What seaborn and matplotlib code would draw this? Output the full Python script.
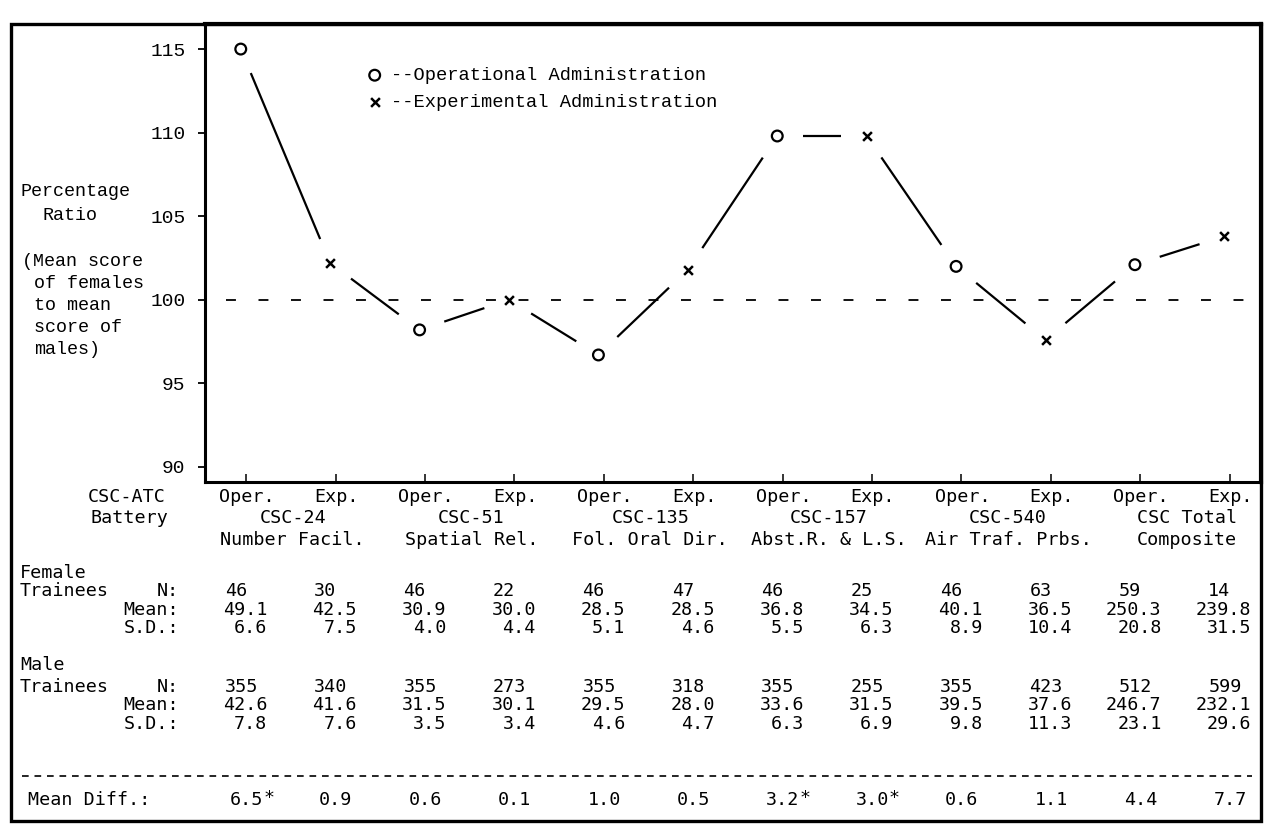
import numpy as np
import matplotlib
matplotlib.use("Agg")
import matplotlib.pyplot as plt
import matplotlib.transforms as mtransforms
from matplotlib.patches import Rectangle
import seaborn as sns

# ---- data -------------------------------------------------------------
tests = ["CSC-24", "CSC-51", "CSC-135", "CSC-157", "CSC-540", "CSC Total"]
subtitles = ["Number Facil.", "Spatial Rel.", "Fol. Oral Dir.",
             "Abst.R. & L.S.", "Air Traf. Prbs.", "Composite"]
admin_labels = ["Oper.", "Exp."]

# percentage ratio (female mean / male mean) per administration
oper_ratio = [115.0, 98.2, 96.7, 109.8, 102.0, 102.1]
exp_ratio = [102.2, 100.0, 101.8, 109.8, 97.6, 103.8]

# columns run Oper., Exp. for each test
female_n = [46, 30, 46, 22, 46, 47, 46, 25, 46, 63, 59, 14]
female_mean = [49.1, 42.5, 30.9, 30.0, 28.5, 28.5, 36.8, 34.5, 40.1, 36.5, 250.3, 239.8]
female_sd = [6.6, 7.5, 4.0, 4.4, 5.1, 4.6, 5.5, 6.3, 8.9, 10.4, 20.8, 31.5]
male_n = [355, 340, 355, 273, 355, 318, 355, 255, 355, 423, 512, 599]
male_mean = [42.6, 41.6, 31.5, 30.1, 29.5, 28.0, 33.6, 31.5, 39.5, 37.6, 246.7, 232.1]
male_sd = [7.8, 7.6, 3.5, 3.4, 4.6, 4.7, 6.3, 6.9, 9.8, 11.3, 23.1, 29.6]
mean_diff = [6.5, 0.9, 0.6, 0.1, 1.0, 0.5, 3.2, 3.0, 0.6, 1.1, 4.4, 7.7]
mean_diff_sig = [True, False, False, False, False, False, True, True, False, False, False, False]

y_ticks = [90, 95, 100, 105, 110, 115]

# ---- figure -------------------------------------------------------------
W, H = 1265, 827
sns.set_theme(style="white")
plt.rcParams["font.family"] = ["Liberation Mono", "DejaVu Sans Mono"]
plt.rcParams["text.color"] = "black"

fig = plt.figure(figsize=(W / 100, H / 100), dpi=100)
fig.patch.set_facecolor("white")


def fx(px):
    return px / W


def fy(py):
    return 1 - py / H


ax = fig.add_axes([fx(205), fy(482), fx(1261) - fx(205), fy(24) - fy(482)])
ax.set_facecolor("white")

x_oper = np.arange(len(tests)) * 2
x_exp = x_oper + 1
x_all = np.arange(2 * len(tests))
ratio_all = np.ravel(np.column_stack([oper_ratio, exp_ratio]))

ax.set_xlim(-0.40, 11.41)
ax.set_ylim(89.1, 116.5)

# reference line at equal means
ax.axhline(100, xmin=0.02, xmax=1.0, color="black", lw=1.3,
           dashes=(5.5, 12.5), zorder=1)

# connectors between successive points, stopping short of each marker
gap_px = 26
to_disp = ax.transData
to_data = ax.transData.inverted()
for i in range(len(x_all) - 1):
    a = to_disp.transform((x_all[i], ratio_all[i]))
    b = to_disp.transform((x_all[i + 1], ratio_all[i + 1]))
    d = b - a
    u = d / np.hypot(*d)
    seg = to_data.transform(np.vstack([a + u * gap_px, b - u * gap_px]))
    ax.plot(seg[:, 0], seg[:, 1], color="black", lw=1.6, solid_capstyle="butt", zorder=2)

sns.scatterplot(x=x_oper, y=oper_ratio, marker="o", s=60, facecolor="none",
                edgecolor="black", linewidth=1.6, ax=ax, zorder=3,
                label="--Operational Administration")
sns.scatterplot(x=x_exp, y=exp_ratio, marker="x", s=40, color="black",
                linewidth=1.8, ax=ax, zorder=3,
                label="--Experimental Administration")

ax.legend(loc="upper left", bbox_to_anchor=(fx(370), fy(67)),
          bbox_transform=fig.transFigure, frameon=False,
          handlelength=0.5, handletextpad=0.6, borderpad=0, borderaxespad=0,
          labelspacing=0.5, prop={"family": "Liberation Mono", "size": 13.5})

# axes styling
ax.set_yticks(y_ticks)
ax.set_yticklabels([str(t) for t in y_ticks], fontsize=14)
ax.set_xticks(x_all + 0.06)
ax.set_xticklabels([])
ax.tick_params(axis="y", direction="out", length=5, width=1.3, pad=9, left=True, colors="black")
ax.tick_params(axis="x", direction="in", length=6, width=1.3, bottom=True)
for side, lw in [("left", 2.2), ("bottom", 2.2), ("top", 3.0), ("right", 3.0)]:
    ax.spines[side].set_visible(True)
    ax.spines[side].set_color("black")
    ax.spines[side].set_linewidth(lw)
ax.set_xlabel("")
ax.set_ylabel("")

# outer frame around plot and table
fig.add_artist(Rectangle((fx(11), fy(821)), fx(1261) - fx(11), fy(24) - fy(821),
                         transform=fig.transFigure, fill=False, ec="black", lw=2.4))

# y-axis caption
fs = 13.2
fig.text(fx(21), fy(192), "Percentage", fontsize=fs, va="center", ha="left")
fig.text(fx(43), fy(215), "Ratio", fontsize=fs, va="center", ha="left")
for txt, px, py in [("(Mean score", 22, 262), ("of females", 34, 284),
                    ("to mean", 34, 306), ("score of", 34, 328), ("males)", 34, 350)]:
    fig.text(fx(px), fy(py), txt, fontsize=fs, va="center", ha="left")

# ---- data table under the axis -----------------------------------------
tfs = 13.2
tfam = ["DejaVu Sans Mono"]
colx = mtransforms.blended_transform_factory(ax.transData, fig.transFigure)


def row(values, py, fmt, align):
    for xi, v in zip(x_all, values):
        s = fmt(v)
        if align == "left":
            fig.text(xi - 0.18, fy(py), s, transform=colx, fontsize=tfs,
                     family=tfam, ha="left", va="center")
        else:
            fig.text(xi + 0.30, fy(py), s, transform=colx, fontsize=tfs,
                     family=tfam, ha="right", va="center")


# header
fig.text(fx(127), fy(497), "CSC-ATC", fontsize=tfs, family=tfam, ha="center", va="center")
fig.text(fx(129), fy(518), "Battery", fontsize=tfs, family=tfam, ha="center", va="center")
for xi in x_all:
    fig.text(xi + 0.07, fy(497), admin_labels[xi % 2], transform=colx, fontsize=tfs,
             family=tfam, ha="center", va="center")
for k, (t, sub) in enumerate(zip(tests, subtitles)):
    xm = x_oper[k] + 0.58
    fig.text(xm, fy(518), t, transform=colx, fontsize=tfs, family=tfam, ha="center", va="center")
    fig.text(xm, fy(540), sub, transform=colx, fontsize=tfs, family=tfam, ha="center", va="center")

# female rows
fig.text(fx(20), fy(573), "Female", fontsize=tfs, family=tfam, ha="left", va="center")
fig.text(fx(20), fy(591), "Trainees", fontsize=tfs, family=tfam, ha="left", va="center")
for lab, py in [("N:", 591), ("Mean:", 610), ("S.D.:", 628)]:
    fig.text(fx(179), fy(py), lab, fontsize=tfs, family=tfam, ha="right", va="center")
row(female_n, 591, lambda v: f"{v}", "left")
row(female_mean, 610, lambda v: f"{v:.1f}", "right")
row(female_sd, 628, lambda v: f"{v:.1f}", "right")

# male rows
fig.text(fx(20), fy(665), "Male", fontsize=tfs, family=tfam, ha="left", va="center")
fig.text(fx(20), fy(687), "Trainees", fontsize=tfs, family=tfam, ha="left", va="center")
for lab, py in [("N:", 687), ("Mean:", 705), ("S.D.:", 724)]:
    fig.text(fx(179), fy(py), lab, fontsize=tfs, family=tfam, ha="right", va="center")
row(male_n, 687, lambda v: f"{v}", "left")
row(male_mean, 705, lambda v: f"{v:.1f}", "right")
row(male_sd, 724, lambda v: f"{v:.1f}", "right")

# separator and mean differences
fig.add_artist(plt.Line2D([fx(22), fx(1252)], [fy(776), fy(776)], transform=fig.transFigure,
                          color="black", lw=1.2, dashes=(4, 3.5)))
fig.text(fx(150), fy(800), "Mean Diff.:", fontsize=tfs, family=tfam, ha="right", va="center")
for xi, v, sig in zip(x_all, mean_diff, mean_diff_sig):
    fig.text(xi + 0.25, fy(800), f"{v:.1f}", transform=colx, fontsize=tfs,
             family=tfam, ha="right", va="center")
    if sig:
        fig.text(xi + 0.25, fy(798), "*", transform=colx, fontsize=tfs,
                 family=tfam, ha="left", va="center")

fig.savefig("out.png", dpi=100, facecolor="white")
